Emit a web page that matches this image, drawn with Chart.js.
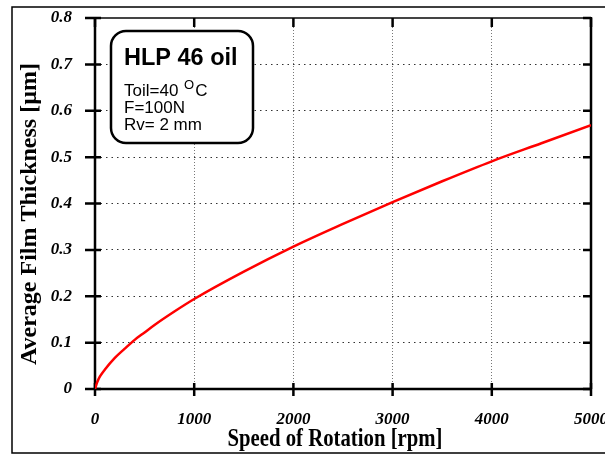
<!DOCTYPE html>
<html>
<head>
<meta charset="utf-8">
<script src="https://cdn.jsdelivr.net/npm/chart.js@4.4.0/dist/chart.umd.min.js"></script>
<style>
  html, body { margin: 0; padding: 0; background: #fff; overflow: hidden; }
  #wrap { position: relative; width: 605px; height: 455px; }
</style>
</head>
<body>
<div id="wrap"><canvas id="filmChart" width="605" height="455"></canvas></div>
<script>
// film thickness vs. rotation speed
const speedRpm = [0, 25, 50, 100, 200, 300, 400, 500, 600, 800, 1000, 1500, 2000, 2500, 3000, 3500, 4000, 4500, 5000];
const filmThickness = [0, 0.016, 0.027, 0.042, 0.067, 0.087, 0.106, 0.122, 0.138, 0.167, 0.194, 0.253, 0.307, 0.356, 0.403, 0.448, 0.491, 0.530, 0.569];
const xTicks = [0, 1000, 2000, 3000, 4000, 5000];
const yTicks = [0, 0.1, 0.2, 0.3, 0.4, 0.5, 0.6, 0.7, 0.8];
const xTitle = 'Speed of Rotation [rpm]';
const yTitle = 'Average Film Thickness [\u00b5m]';
const boxTitle = 'HLP 46 oil';
const boxLines = ['F=100N', 'Rv= 2 mm'];

const serif = "'Liberation Serif', 'Times New Roman', serif";
const sans = "'Liberation Sans', Arial, sans-serif";
const tickFont = { family: serif, size: 17, style: 'italic', weight: 'bold' };

// axes, ticks and outer frame
const framePlugin = {
    id: 'frame',
    beforeDatasetsDraw(chart) {
        const ctx = chart.ctx;
        const ca = chart.chartArea;
        const xs = chart.scales.x;
        const ys = chart.scales.y;
        ctx.save();
        ctx.lineCap = 'butt';

        // top and right edges
        ctx.strokeStyle = '#444';
        ctx.lineWidth = 2;
        ctx.beginPath();
        ctx.moveTo(ca.left, ca.top);
        ctx.lineTo(ca.right, ca.top);
        ctx.stroke();
        ctx.strokeStyle = '#000';
        ctx.lineWidth = 2.5;
        ctx.beginPath();
        ctx.moveTo(ca.right, ca.top - 1);
        ctx.lineTo(ca.right, ca.bottom);
        ctx.stroke();

        // left and bottom axes
        ctx.beginPath();
        ctx.moveTo(ca.left, ca.top);
        ctx.lineTo(ca.left, ca.bottom);
        ctx.moveTo(ca.left, ca.bottom);
        ctx.lineTo(ca.right, ca.bottom);
        ctx.stroke();

        // tick marks crossing the axes, short inward ticks on top/right
        ctx.beginPath();
        xTicks.forEach(v => {
            const px = xs.getPixelForValue(v);
            ctx.moveTo(px, ca.bottom - 6);
            ctx.lineTo(px, ca.bottom + 7);
            ctx.moveTo(px, ca.top);
            ctx.lineTo(px, ca.top + 9);
        });
        yTicks.forEach(v => {
            const py = ys.getPixelForValue(v);
            ctx.moveTo(ca.left - 10, py);
            ctx.lineTo(ca.left + 6, py);
            ctx.moveTo(ca.right - 8, py);
            ctx.lineTo(ca.right, py);
        });
        ctx.stroke();
        ctx.restore();
    },
    afterDraw(chart) {
        const ctx = chart.ctx;
        const ca = chart.chartArea;
        ctx.save();

        // border round the figure
        ctx.strokeStyle = '#000';
        ctx.lineWidth = 1.5;
        ctx.beginPath();
        ctx.moveTo(chart.width + 5, 7);
        ctx.lineTo(12, 7);
        ctx.lineTo(12, 453);
        ctx.lineTo(chart.width + 5, 453);
        ctx.stroke();

        // axis titles (x title is a narrow bold serif)
        ctx.fillStyle = '#000';
        ctx.textAlign = 'center';
        ctx.textBaseline = 'alphabetic';
        ctx.save();
        ctx.translate(335, 446);
        ctx.scale(0.83, 1);
        ctx.font = 'bold 25px ' + serif;
        ctx.fillText(xTitle, 0, 0);
        ctx.restore();
        ctx.save();
        ctx.translate(36, 214);
        ctx.rotate(-Math.PI / 2);
        ctx.font = 'bold 24px ' + serif;
        ctx.fillText(yTitle, 0, 0);
        ctx.restore();

        // legend box
        const bx = ca.left + 16, by = ca.top + 13, bw = 142, bh = 112;
        ctx.beginPath();
        ctx.roundRect(bx, by, bw, bh, 15);
        ctx.fillStyle = '#fff';
        ctx.fill();
        ctx.lineWidth = 2.5;
        ctx.strokeStyle = '#000';
        ctx.stroke();

        ctx.fillStyle = '#000';
        ctx.textAlign = 'left';
        ctx.font = 'bold 23.5px ' + sans;
        ctx.fillText(boxTitle, bx + 13, by + 34);

        ctx.font = '17px ' + sans;
        const tx = bx + 13;
        let ty = by + 65;
        const lead = 'Toil=40 ';
        ctx.fillText(lead, tx, ty);
        let cx = tx + ctx.measureText(lead).width + 1;
        ctx.font = '13px ' + sans;
        ctx.fillText('O', cx, ty - 7);
        cx += ctx.measureText('O').width + 1;
        ctx.font = '17px ' + sans;
        ctx.fillText('C', cx, ty);
        boxLines.forEach(line => {
            ty += 16.75;
            ctx.fillText(line, tx, ty);
        });
        ctx.restore();
    }
};

new Chart(document.getElementById('filmChart'), {
    type: 'line',
    data: {
        datasets: [{
            data: speedRpm.map((x, i) => ({ x: x, y: filmThickness[i] })),
            borderColor: '#ff0000',
            borderWidth: 2.5,
            pointRadius: 0,
            fill: false,
            cubicInterpolationMode: 'monotone'
        }]
    },
    options: {
        responsive: false,
        animation: false,
        devicePixelRatio: 1,
        layout: { padding: { left: 0, top: 18, right: 14, bottom: 0 } },
        plugins: { legend: { display: false }, tooltip: { enabled: false } },
        scales: {
            x: {
                type: 'linear',
                min: 0,
                max: 5000,
                afterBuildTicks: s => { s.ticks = xTicks.map(v => ({ value: v })); },
                afterFit: s => { s.height = 66; s.paddingLeft = 0; s.paddingRight = 0; },
                ticks: {
                    font: tickFont,
                    color: '#000',
                    padding: 20,
                    maxRotation: 0,
                    autoSkip: false,
                    callback: v => String(v)
                },
                grid: { color: '#777', lineWidth: 1, drawTicks: false },
                border: { display: false, dash: [1, 2] }
            },
            y: {
                min: 0,
                max: 0.8,
                afterBuildTicks: s => { s.ticks = yTicks.map(v => ({ value: v })); },
                afterFit: s => { s.width = 95; s.paddingTop = 0; s.paddingBottom = 0; },
                ticks: {
                    font: tickFont,
                    color: '#000',
                    padding: 23,
                    callback: v => (v === 0 ? '0' : v.toFixed(1))
                },
                grid: { color: '#333', lineWidth: 1, drawTicks: false },
                border: { display: false, dash: [1.5, 4] }
            }
        }
    },
    plugins: [framePlugin]
});
</script>
</body>
</html>
